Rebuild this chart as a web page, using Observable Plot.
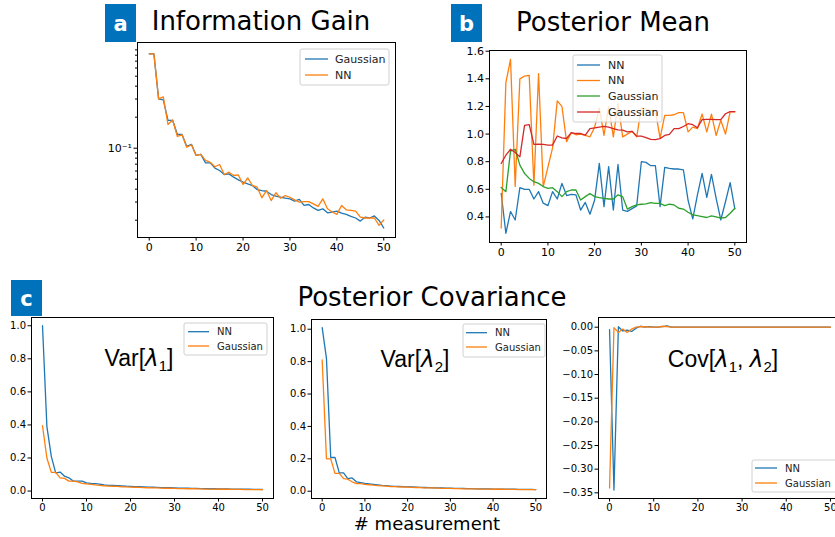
<!DOCTYPE html>
<html><head><meta charset="utf-8">
<script src="https://cdn.jsdelivr.net/npm/d3@7"></script>
<script src="https://cdn.jsdelivr.net/npm/@observablehq/plot@0.6"></script>
<style>
html,body{margin:0;padding:0;overflow:hidden;background:#fff;}
#fig{position:relative;width:835px;height:537px;overflow:hidden;}
#fig > svg{position:absolute;max-width:none !important;}
</style></head><body><div id="fig"></div>
<script>
// ---------- data ----------
const measurement = [0,1,2,3,4,5,6,7,8,9,10,11,12,13,14,15,16,17,18,19,20,21,22,23,24,25,26,27,28,29,30,31,32,33,34,35,36,37,38,39,40,41,42,43,44,45,46,47,48,49,50];
const xTicks = [0,10,20,30,40,50];

// (a) Information gain (log scale)
const infoGaussian = [0.824,0.824,0.301,0.294,0.186,0.186,0.136,0.136,0.104,0.109,0.085,0.087,0.072,0.072,0.064,0.0607,0.0555,0.0563,0.0523,0.0493,0.0468,0.045,0.0434,0.0397,0.0388,0.0382,0.0355,0.0343,0.0334,0.0327,0.0322,0.0306,0.0318,0.0278,0.0284,0.0263,0.0249,0.0258,0.0236,0.024,0.0245,0.0234,0.0228,0.0218,0.021,0.0196,0.0214,0.021,0.022,0.0199,0.0168];
const infoNN = [0.824,0.824,0.301,0.315,0.17,0.188,0.13,0.135,0.102,0.108,0.085,0.087,0.076,0.073,0.066,0.0694,0.0555,0.0585,0.0543,0.055,0.0444,0.0515,0.0434,0.0419,0.033,0.0388,0.031,0.0369,0.0327,0.0347,0.0334,0.0315,0.0299,0.0303,0.0303,0.0288,0.0272,0.0322,0.0258,0.024,0.0228,0.0278,0.0252,0.0249,0.0245,0.0214,0.021,0.021,0.021,0.0178,0.0201];
const infoMajorTicks = [0.1];
const infoMinorTicks = [0.02,0.03,0.04,0.05,0.06,0.07,0.08,0.09,0.2,0.3,0.4,0.5,0.6,0.7,0.8,0.9];

// (b) Posterior mean
const meanNN1 = [0.571,0.282,0.439,0.378,0.612,0.6,0.6,0.53,0.583,0.5,0.482,0.583,0.53,0.643,0.555,0.564,0.56,0.45,0.505,0.42,0.523,0.788,0.475,0.764,0.45,0.78,0.45,0.44,0.46,0.48,0.8,0.795,0.771,0.771,0.475,0.759,0.752,0.747,0.747,0.74,0.52,0.386,0.56,0.715,0.542,0.708,0.535,0.378,0.51,0.648,0.458];
const meanNN2 = [0.32,1.372,1.54,0.62,1.4,1.42,1.425,0.63,1.437,0.62,0.76,0.9,1.24,1.2,0.945,1.01,0.995,1.0,0.99,0.98,1.05,1.19,0.99,1.2,0.98,1.22,0.98,1.0,1.02,0.98,1.19,1.18,1.17,1.17,0.97,1.136,1.136,1.14,1.155,1.155,1.016,1.05,1.04,1.145,1.016,1.145,0.99,1.1,1.0,1.16,1.16];
const meanGauss1 = [0.613,0.583,0.876,0.89,0.775,0.715,0.679,0.655,0.643,0.62,0.607,0.612,0.583,0.547,0.583,0.595,0.595,0.522,0.547,0.57,0.547,0.54,0.535,0.53,0.53,0.56,0.547,0.457,0.475,0.487,0.492,0.494,0.503,0.498,0.498,0.482,0.492,0.487,0.463,0.457,0.434,0.415,0.41,0.403,0.396,0.408,0.4,0.392,0.396,0.427,0.463];
const meanGauss2 = [0.787,0.847,0.89,0.867,0.835,1.063,1.068,0.925,0.927,0.925,0.92,0.92,0.986,0.972,0.968,1.011,1.004,1.004,0.992,1.04,1.045,1.05,1.055,1.05,1.04,1.03,1.028,1.016,1.02,0.985,0.985,0.975,0.962,0.96,0.967,0.99,0.998,1.04,1.04,1.055,1.075,1.068,1.046,1.105,1.107,1.107,1.105,1.105,1.147,1.163,1.163];
const meanTicks = [0.4,0.6,0.8,1.0,1.2,1.4,1.6];

// (c) Posterior covariance
const var1NN = [1.0,0.39,0.21,0.11,0.115,0.09,0.08,0.06,0.06,0.06,0.05,0.047,0.045,0.042,0.038,0.035,0.034,0.033,0.031,0.029,0.028,0.027,0.026,0.025,0.024,0.023,0.022,0.021,0.02,0.02,0.019,0.018,0.018,0.017,0.016,0.016,0.015,0.015,0.014,0.014,0.013,0.013,0.013,0.012,0.012,0.011,0.011,0.011,0.01,0.01,0.01];
const var1Gauss = [0.395,0.2,0.113,0.113,0.08,0.077,0.06,0.06,0.056,0.046,0.043,0.04,0.037,0.035,0.032,0.03,0.029,0.028,0.026,0.025,0.024,0.023,0.022,0.021,0.02,0.019,0.019,0.018,0.017,0.017,0.016,0.015,0.015,0.014,0.014,0.013,0.013,0.012,0.012,0.012,0.011,0.011,0.011,0.01,0.01,0.01,0.009,0.009,0.009,0.009,0.008];
const var2NN = [1.01,0.82,0.208,0.208,0.113,0.113,0.078,0.082,0.058,0.053,0.048,0.045,0.042,0.039,0.036,0.034,0.032,0.03,0.029,0.028,0.027,0.026,0.025,0.024,0.023,0.022,0.021,0.021,0.02,0.019,0.019,0.018,0.017,0.017,0.016,0.016,0.015,0.015,0.014,0.014,0.013,0.013,0.013,0.012,0.012,0.012,0.011,0.011,0.011,0.011,0.01];
const var2Gauss = [0.81,0.2,0.2,0.11,0.11,0.078,0.074,0.058,0.047,0.047,0.042,0.04,0.037,0.035,0.033,0.031,0.029,0.028,0.027,0.026,0.025,0.024,0.023,0.022,0.021,0.02,0.02,0.019,0.018,0.018,0.017,0.016,0.016,0.015,0.015,0.014,0.014,0.013,0.013,0.013,0.012,0.012,0.012,0.011,0.011,0.011,0.01,0.01,0.01,0.01,0.01];
const covNN = [-0.005,-0.344,0.001,-0.008,-0.006,-0.009,-0.002,0.002,0.0,0.001,0.0,0.0,0.001,0.003,0.0,0.0,0.0,0.0,0.0,0.0,0.0,0.0,0.0,0.0,0.0,0.0,0.0,0.0,0.0,0.0,0.0,0.0,0.0,0.0,0.0,0.0,0.0,0.0,0.0,0.0,0.0,0.0,0.0,0.0,0.0,0.0,0.0,0.0,0.0,0.0,0.0];
const covGauss = [-0.34,-0.001,-0.011,-0.004,-0.011,-0.004,0.0,0.001,0.001,0.0,0.0,0.0,0.002,0.001,0.0,0.0,0.0,0.0,0.0,0.0,0.0,0.0,0.0,0.0,0.0,0.0,0.0,0.0,0.0,0.0,0.0,0.0,0.0,0.0,0.0,0.0,0.0,0.0,0.0,0.0,0.0,0.0,0.0,0.0,0.0,0.0,0.0,0.0,0.0,0.0,0.0];
const varTicks = [0.0,0.2,0.4,0.6,0.8,1.0];
const covTicks = [0.0,-0.05,-0.10,-0.15,-0.20,-0.25,-0.30,-0.35];

const C = {blue:"#1f77b4", orange:"#ff7f0e", green:"#2ca02c", red:"#d62728"};

// ---------- helpers ----------
const fig = document.getElementById("fig");
function rows(arr){ return measurement.map((m,i)=>({m, v:arr[i]})); }

function panel({left, top, width, height, ml, mr, mt, mb, y, series, yAxes, fs, noRight}){
  const marks = [];
  for (const s of series) marks.push(Plot.line(rows(s.data), {x:"m", y:"v", stroke:s.color, strokeWidth:1.3}));
  marks.push(Plot.axisX({ticks:xTicks, tickSize:3.5, tickPadding:2, fontSize:fs, label:null, tickFormat:d=>String(d)}));
  for (const a of yAxes) marks.push(Plot.axisY(a));
  if (noRight) {
    marks.push(Plot.frame({anchor:"left", stroke:"black", strokeWidth:1}));
    marks.push(Plot.frame({anchor:"top", stroke:"black", strokeWidth:1}));
    marks.push(Plot.frame({anchor:"bottom", stroke:"black", strokeWidth:1}));
  } else {
    marks.push(Plot.frame({stroke:"black", strokeWidth:1}));
  }
  const svg = Plot.plot({
    width, height, marginLeft:ml, marginRight:mr, marginTop:mt, marginBottom:mb,
    x:{domain:[-2.5,52.5]}, y,
    style:{fontFamily:"DejaVu Sans", fontSize:fs+"px", color:"black", background:"transparent", overflow:"visible"},
    marks
  });
  svg.style.left = left+"px"; svg.style.top = top+"px";
  fig.appendChild(svg);
}

// (a)
panel({left:100, top:30, width:300, height:235, ml:37, mr:5, mt:12, mb:28, fs:11,
  y:{type:"log", domain:[0.01358,1.062]},
  series:[{data:infoGaussian,color:C.blue},{data:infoNN,color:C.orange}],
  yAxes:[
    {ticks:infoMinorTicks, tickSize:2, tickFormat:()=>"", label:null},
    {ticks:infoMajorTicks, tickSize:3.5, tickPadding:2, fontSize:11, tickFormat:()=>"10\u207B\u00B9", label:null}
  ]});
// (b)
panel({left:460, top:38, width:300, height:232, ml:29, mr:14, mt:12, mb:28, fs:11,
  y:{domain:[0.215,1.605]},
  series:[{data:meanNN1,color:C.blue},{data:meanNN2,color:C.orange},{data:meanGauss1,color:C.green},{data:meanGauss2,color:C.red}],
  yAxes:[{ticks:meanTicks, tickSize:3.5, tickPadding:2, fontSize:11, tickFormat:d3.format(".1f"), label:null}]});
// (c1)
panel({left:0, top:305, width:280, height:210, ml:31, mr:7, mt:12, mb:17, fs:10,
  y:{domain:[-0.045,1.05]},
  series:[{data:var1NN,color:C.blue},{data:var1Gauss,color:C.orange}],
  yAxes:[{ticks:varTicks, tickSize:3.5, tickPadding:2, fontSize:10, tickFormat:d3.format(".1f"), label:null}]});
// (c2)
panel({left:280, top:305, width:275, height:210, ml:31, mr:9, mt:14, mb:17, fs:10,
  y:{domain:[-0.045,1.06]},
  series:[{data:var2NN,color:C.blue},{data:var2Gauss,color:C.orange}],
  yAxes:[{ticks:varTicks, tickSize:3.5, tickPadding:2, fontSize:10, tickFormat:d3.format(".1f"), label:null}]});
// (c3) right spine lies outside the 835px figure
panel({left:555, top:305, width:300, height:210, ml:43, mr:14, mt:12, mb:17, fs:10, noRight:true,
  y:{domain:[-0.362,0.0205]},
  series:[{data:covNN,color:C.blue},{data:covGauss,color:C.orange}],
  yAxes:[{ticks:covTicks, tickSize:3.5, tickPadding:2, fontSize:10, tickFormat:d3.format(".2f"), label:null}]});

// ---------- overlay: titles, tags, legends, annotations ----------
const ov = d3.select(fig).append("svg").attr("width",835).attr("height",537)
  .style("left","0px").style("top","0px").style("pointer-events","none");

const titles = [
  {text:"Information Gain", x:261, y:30},
  {text:"Posterior Mean", x:613, y:31},
  {text:"Posterior Covariance", x:432, y:306}
];
for (const t of titles) ov.append("text").attr("x",t.x).attr("y",t.y).attr("text-anchor","middle")
  .attr("font-family","DejaVu Sans").attr("font-size",26).attr("fill","black").text(t.text);

const tags = [{t:"a",x:105,y:4,h:38},{t:"b",x:451,y:4,h:38},{t:"c",x:11,y:280,h:36}];
for (const g of tags){
  ov.append("rect").attr("x",g.x).attr("y",g.y).attr("width",31).attr("height",g.h).attr("fill","#0072bc");
  ov.append("text").attr("x",g.x+15.5).attr("y",g.y+g.h/2+7.5).attr("text-anchor","middle")
    .attr("font-family","DejaVu Sans").attr("font-weight","bold").attr("font-size",21).attr("fill","white").text(g.t);
}

ov.append("text").attr("x",427).attr("y",530).attr("text-anchor","middle")
  .attr("font-family","DejaVu Sans").attr("font-size",18).attr("fill","black").text("# measurement");

const legends = [
  {x:300,y:49,w:89,h:36,fs:11,sw:[305,328],tx:335,items:[["Gaussian",C.blue,59],["NN",C.orange,75]]},
  {x:573,y:55,w:89,h:67,fs:11,sw:[577,600],tx:608,items:[["NN",C.blue,65],["NN",C.orange,80.5],["Gaussian",C.green,96],["Gaussian",C.red,112]]},
  {x:184,y:323,w:83,h:32,fs:10,sw:[188,209],tx:217,items:[["NN",C.blue,331.7],["Gaussian",C.orange,346]]},
  {x:463,y:324,w:82,h:33,fs:10,sw:[466,487],tx:495,items:[["NN",C.blue,332.7],["Gaussian",C.orange,347]]},
  {x:752,y:460,w:90,h:32,fs:10,sw:[755,777],tx:785,items:[["NN",C.blue,468],["Gaussian",C.orange,483]]}
];
for (const L of legends){
  ov.append("rect").attr("x",L.x).attr("y",L.y).attr("width",L.w).attr("height",L.h).attr("rx",2)
    .attr("fill","white").attr("fill-opacity",0.8).attr("stroke","#d0d0d0").attr("stroke-width",1);
  for (const [label,color,cy] of L.items){
    ov.append("line").attr("x1",L.sw[0]).attr("x2",L.sw[1]).attr("y1",cy).attr("y2",cy).attr("stroke",color).attr("stroke-width",1.3);
    ov.append("text").attr("x",L.tx).attr("y",cy).attr("dy","0.35em").attr("font-family","DejaVu Sans")
      .attr("font-size",L.fs).attr("fill","#222").text(label);
  }
}

function mathLabel(x, y, parts){
  const t = ov.append("text").attr("x",x).attr("y",y).attr("text-anchor","middle")
    .attr("font-family","Liberation Sans").attr("font-size",23).attr("fill","black");
  for (const p of parts){
    const s = t.append("tspan").text(p.s);
    if (p.it) s.attr("font-family","DejaVu Sans").attr("font-style","italic");
    if (p.sub) s.attr("font-size",15).attr("dy",p.dy);
    else if (p.dy) s.attr("dy",p.dy);
  }
}
mathLabel(139,366,[{s:"Var["},{s:"\u03BB",it:true},{s:"1",sub:true,dy:5},{s:"]",dy:-5}]);
mathLabel(415,367,[{s:"Var["},{s:"\u03BB",it:true},{s:"2",sub:true,dy:5},{s:"]",dy:-5}]);
mathLabel(723,367,[{s:"Cov["},{s:"\u03BB",it:true},{s:"1",sub:true,dy:5},{s:", ",dy:-5},{s:"\u03BB",it:true},{s:"2",sub:true,dy:5},{s:"]",dy:-5}]);
</script></body></html>
